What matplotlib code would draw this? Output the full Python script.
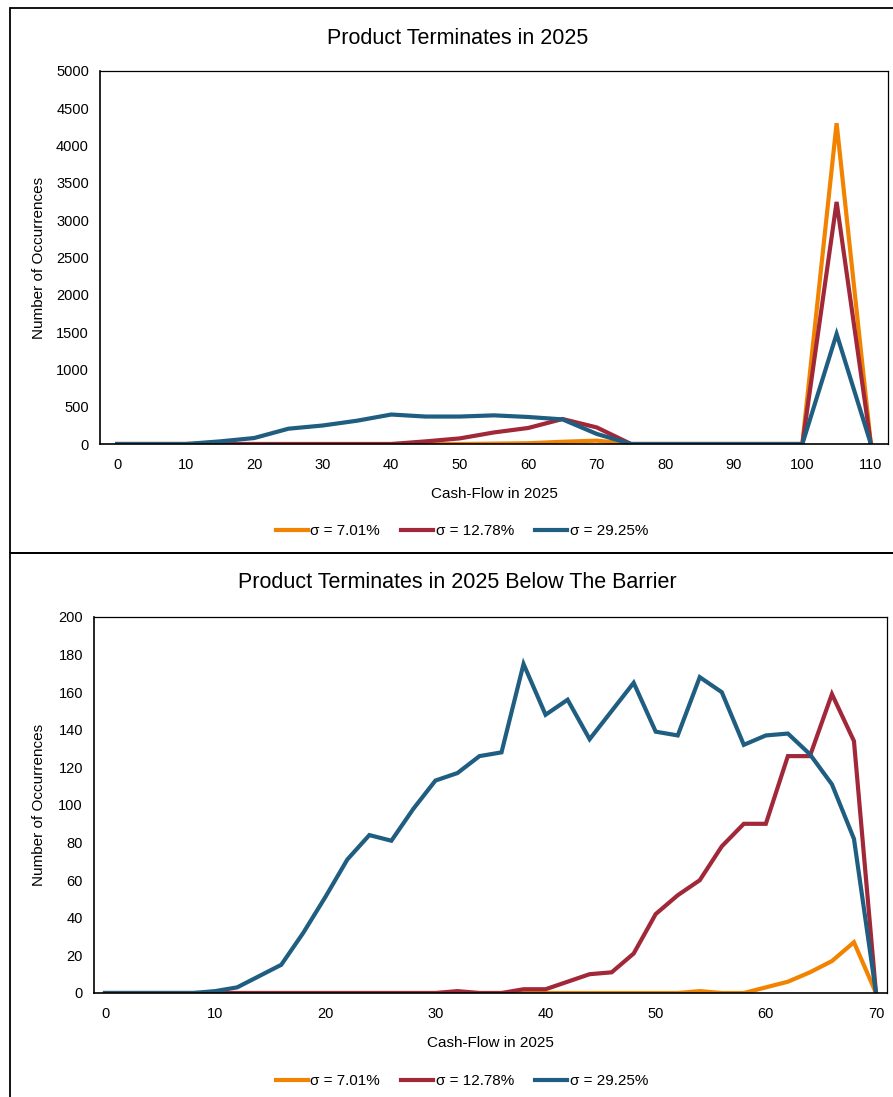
import matplotlib
matplotlib.use("Agg")
import matplotlib.pyplot as plt
from matplotlib.patches import Rectangle

plt.rcParams['font.family'] = ['Liberation Sans', 'DejaVu Sans']

# ---- Data ----
series_labels = ["σ = 7.01%", "σ = 12.78%", "σ = 29.25%"]
colors = ["#F28300", "#A12838", "#1F5E80"]

top_x = list(range(0, 115, 5))
top_orange = [0, 0, 0, 0, 0, 0, 0, 0, 0, 0, 0, 5, 10, 30, 45, 0, 0, 0, 0, 0, 0, 4300, 0]
top_red = [0, 0, 0, 0, 0, 0, 0, 0, 0, 35, 75, 155, 215, 335, 222, 0, 0, 0, 0, 0, 0, 3245, 0]
top_blue = [0, 0, 0, 35, 80, 205, 248, 312, 395, 368, 368, 384, 362, 330, 135, 0, 0, 0, 0, 0, 0, 1475, 0]

bot_x = list(range(0, 72, 2))
bot_orange = [0]*27 + [1, 0, 0, 3, 6, 11, 17, 27, 0]
bot_red = [0]*16 + [1, 0, 0, 2, 2, 6, 10, 11, 21, 42, 52, 60, 78, 90, 90, 126, 126, 159, 134, 0]
bot_blue = [0, 0, 0, 0, 0, 1, 3, 9, 15, 32, 51, 71, 84, 81, 98, 113, 117, 126, 128,
            175, 148, 156, 135, 150, 165, 139, 137, 168, 160, 132, 137, 138, 127, 111, 82, 0]

W, H = 893, 1097
fig = plt.figure(figsize=(W/100, H/100), dpi=100)

def fx(px): return px / W
def fy(py): return 1 - py / H

# panel frames
fig.patches.append(Rectangle((fx(10), fy(553)), fx(893) - fx(10) + 0.01, fy(8) - fy(553),
                             transform=fig.transFigure, fill=False, ec='black', lw=1.3))
fig.patches.append(Rectangle((fx(10), fy(1100)), fx(893) - fx(10) + 0.01, fy(553) - fy(1100),
                             transform=fig.transFigure, fill=False, ec='black', lw=1.3))

def style(ax, yticks):
    for s in ax.spines.values():
        s.set_color('black')
        s.set_linewidth(0.9)
    ax.spines['left'].set_linewidth(1.2)
    ax.spines['bottom'].set_linewidth(1.2)
    ax.tick_params(axis='both', length=0, labelsize=10.5, colors='black')
    ax.tick_params(axis='x', pad=10)
    ax.tick_params(axis='y', pad=8)
    ax.set_yticks(yticks)

def add_legend(ax, ypix):
    handles, labels = ax.get_legend_handles_labels()
    fig.legend(handles, labels, loc='center', bbox_to_anchor=(fx(462), fy(ypix)),
               bbox_transform=fig.transFigure, ncol=3, frameon=False,
               fontsize=11, handlelength=2.1, handletextpad=0.15, columnspacing=1.4)

# top chart
ax1 = fig.add_axes([fx(100), fy(444), fx(888) - fx(100), fy(71) - fy(444)])
for ys, c, lab in zip([top_orange, top_red, top_blue], colors, series_labels):
    ax1.plot(top_x, ys, color=c, lw=3.0, label=lab, solid_joinstyle='miter')
ax1.set_xlim(-2.5, 112.5)
ax1.set_ylim(0, 5000)
ax1.set_xticks(range(0, 111, 10))
style(ax1, range(0, 5001, 500))
ax1.set_xlabel("Cash-Flow in 2025", fontsize=11, labelpad=11)
ax1.set_ylabel("Number of Occurrences", fontsize=11, labelpad=7)
fig.text(fx(458), fy(38), "Product Terminates in 2025", fontsize=15.5, ha='center', va='center')
add_legend(ax1, 531)

# bottom chart
ax2 = fig.add_axes([fx(94), fy(993), fx(887) - fx(94), fy(617) - fy(993)])
for ys, c, lab in zip([bot_orange, bot_red, bot_blue], colors, series_labels):
    ax2.plot(bot_x, ys, color=c, lw=3.0, label=lab, solid_joinstyle='miter')
ax2.set_xlim(-1, 71)
ax2.set_ylim(0, 200)
ax2.set_xticks(range(0, 71, 10))
style(ax2, range(0, 201, 20))
ax2.set_xlabel("Cash-Flow in 2025", fontsize=11, labelpad=11)
ax2.set_ylabel("Number of Occurrences", fontsize=11, labelpad=9)
fig.text(fx(457), fy(583), "Product Terminates in 2025 Below The Barrier", fontsize=15.5,
         ha='center', va='center')
add_legend(ax2, 1081)

fig.savefig("out.png", dpi=100)
